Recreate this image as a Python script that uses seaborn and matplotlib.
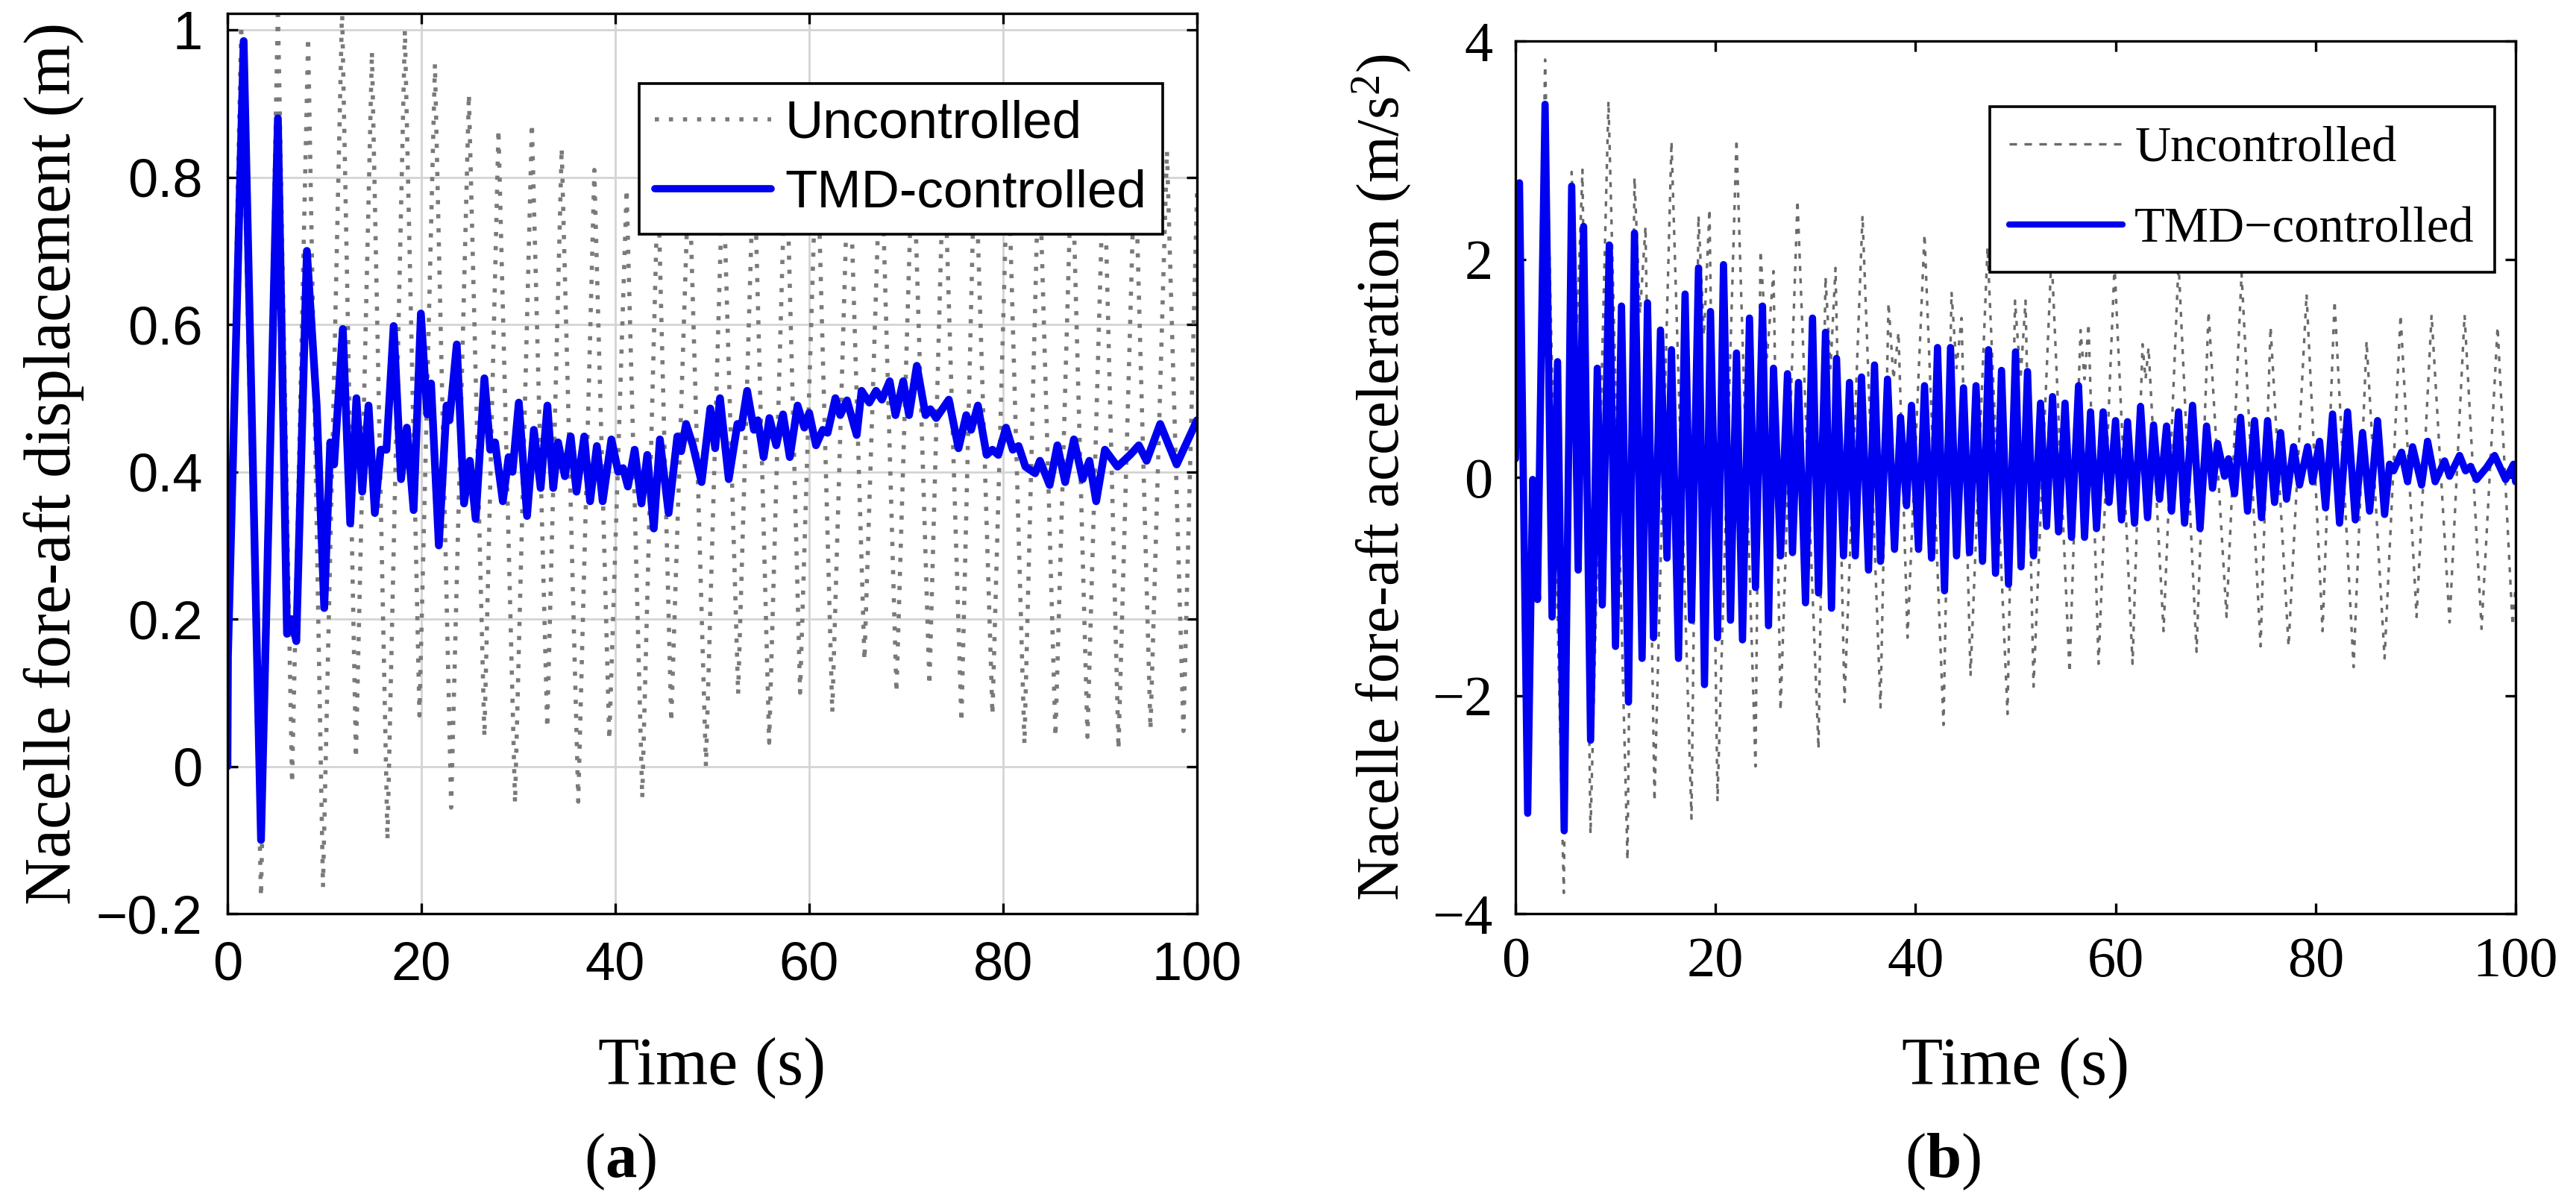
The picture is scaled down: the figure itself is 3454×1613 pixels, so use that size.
import numpy as np
import pandas as pd
import matplotlib
matplotlib.use("Agg")
import matplotlib.pyplot as plt
import seaborn as sns
from matplotlib.lines import Line2D

# ---------------- data ----------------
# (a) nacelle fore-aft displacement (m)
disp_unc_t = [0.0, 0.05, 1.42, 3.46, 5.2, 6.66, 8.32, 9.85, 11.82, 13.25, 14.9, 16.5, 18.3, 19.8,
              21.4, 23.07, 24.9, 26.5, 27.95, 29.66, 31.4, 32.98, 34.47, 36.18, 37.84, 39.38,
              41.17, 42.78, 44.4, 45.77, 47.6, 49.35, 51.1, 52.67, 54.3, 55.87, 57.6, 59.06,
              60.8, 62.38, 64.1, 65.7, 67.4, 69.0, 70.7, 72.4, 73.9, 75.7, 77.1, 78.9, 80.5,
              82.2, 83.7, 85.4, 87.1, 88.7, 90.4, 91.9, 93.6, 95.2, 96.9, 98.6, 100.0]
disp_unc_v = [0.0, 0.15, 1.007, -0.177, 1.03, -0.023, 0.99, -0.164, 1.03, 0.011, 0.971, -0.10, 1.0,
              0.069, 0.954, -0.056, 0.913, 0.04, 0.865, -0.05, 0.873, 0.052, 0.84, -0.048, 0.81,
              0.036, 0.784, -0.043, 0.80, 0.06, 0.82, 0.0, 0.82, 0.098, 0.84, 0.032, 0.86, 0.10,
              0.86, 0.073, 0.86, 0.144, 0.86, 0.10, 0.86, 0.11, 0.85, 0.06, 0.85, 0.07, 0.84,
              0.03, 0.84, 0.04, 0.84, 0.04, 0.84, 0.023, 0.84, 0.05, 0.836, 0.048, 0.78]

disp_tmd_t = [0.0, 0.05, 1.67, 3.46, 5.2, 6.14, 6.6, 7.1, 8.19, 9.2, 9.98, 10.6, 11.0, 11.9, 12.66,
              13.3, 13.9, 14.55, 15.2, 15.8, 16.4, 17.14, 17.9, 18.5, 19.2, 19.95, 20.6, 21.0,
              21.8, 22.6, 22.9, 23.65, 24.4, 25.0, 25.6, 26.5, 27.1, 27.6, 28.4, 29.0, 29.4,
              30.05, 30.9, 31.6, 32.3, 33.0, 33.6, 34.1, 34.8, 35.4, 36.0, 36.8, 37.4, 38.1,
              38.7, 39.6, 40.3, 40.8, 41.3, 42.0, 42.7, 43.3, 43.97, 44.6, 45.5, 46.4, 46.8,
              47.3, 48.0, 48.9, 49.8, 50.3, 50.8, 51.7, 52.6, 53.0, 53.6, 54.3, 54.7, 55.3,
              55.9, 56.6, 57.3, 58.0, 58.8, 59.5, 60.0, 60.7, 61.4, 61.9, 62.7, 63.2, 63.9,
              64.9, 65.4, 66.2, 66.9, 67.5, 68.3, 68.9, 69.7, 70.3, 71.1, 72.0, 72.5, 73.1,
              74.4, 75.4, 76.2, 76.7, 77.4, 78.3, 78.9, 79.5, 80.3, 81.0, 81.6, 82.3, 83.3,
              83.8, 84.8, 85.6, 86.4, 87.3, 88.2, 88.9, 89.6, 90.5, 91.8, 93.1, 94.0, 94.8,
              96.2, 97.9, 100.0]
disp_tmd_v = [0.0, 0.15, 0.985, -0.10, 0.88, 0.18, 0.20, 0.17, 0.70, 0.49, 0.215, 0.44, 0.41, 0.594,
              0.33, 0.50, 0.373, 0.49, 0.344, 0.43, 0.43, 0.598, 0.39, 0.46, 0.348, 0.615, 0.478,
              0.52, 0.30, 0.49, 0.47, 0.573, 0.357, 0.415, 0.336, 0.527, 0.43, 0.44, 0.36, 0.42,
              0.40, 0.494, 0.34, 0.457, 0.378, 0.49, 0.378, 0.44, 0.394, 0.448, 0.373, 0.448,
              0.36, 0.435, 0.36, 0.444, 0.40, 0.405, 0.38, 0.43, 0.357, 0.423, 0.323, 0.444,
              0.344, 0.448, 0.428, 0.465, 0.436, 0.386, 0.486, 0.432, 0.50, 0.39, 0.465, 0.46,
              0.51, 0.457, 0.47, 0.42, 0.473, 0.436, 0.478, 0.42, 0.49, 0.46, 0.48, 0.436,
              0.457, 0.453, 0.50, 0.477, 0.497, 0.45, 0.51, 0.494, 0.51, 0.498, 0.523, 0.477,
              0.523, 0.477, 0.544, 0.477, 0.485, 0.473, 0.498, 0.432, 0.477, 0.457, 0.49,
              0.423, 0.43, 0.423, 0.46, 0.43, 0.435, 0.407, 0.398, 0.415, 0.382, 0.436, 0.386,
              0.444, 0.39, 0.415, 0.36, 0.43, 0.407, 0.423, 0.436, 0.415, 0.465, 0.41, 0.47]

# (b) nacelle fore-aft acceleration (m/s^2)
acc_unc_t = [0.0, 0.4, 1.22, 1.72, 2.2, 2.96, 4.83, 5.62, 6.15, 6.7, 7.5, 9.3, 11.2, 11.9, 12.45,
             13.0, 13.9, 15.6, 17.6, 18.3, 18.85, 19.4, 20.2, 22.1, 24.0, 24.5, 25.15, 25.8,
             26.5, 28.2, 30.3, 31.0, 31.5, 32.0, 32.9, 34.7, 36.5, 37.3, 37.8, 38.3, 39.2,
             40.9, 42.8, 43.6, 44.1, 44.6, 45.5, 47.2, 49.2, 49.95, 50.5, 51.0, 51.8, 53.6,
             55.4, 56.5, 56.9, 57.3, 58.3, 59.9, 61.7, 62.7, 63.0, 63.3, 64.8, 66.3, 68.1,
             69.3, 71.1, 72.6, 74.5, 75.5, 77.3, 79.1, 80.7, 81.9, 83.8, 85.1, 86.9, 88.5,
             90.1, 91.6, 93.4, 94.9, 96.6, 98.2, 99.7, 100.0]
acc_unc_v = [0.1, 2.7, -3.05, 0.0, -1.0, 3.83, -3.81, 2.80, 1.4, 2.82, -3.27, 3.45, -3.51, 2.75,
             1.5, 2.30, -2.97, 3.08, -3.13, 2.40, 1.3, 2.46, -2.97, 3.10, -2.65, 2.08, 1.1, 1.89,
             -2.14, 2.54, -2.49, 1.84, 1.0, 1.92, -2.06, 2.40, -2.11, 1.60, 0.9, 1.33, -1.47,
             2.23, -2.27, 1.70, 1.0, 1.46, -1.82, 2.11, -2.17, 1.62, 0.9, 1.62, -1.92, 2.05,
             -1.79, 1.35, 0.9, 1.41, -1.71, 1.95, -1.71, 1.22, 0.9, 1.19, -1.41, 1.97, -1.60,
             1.52, -1.28, 1.87, -1.55, 1.38, -1.55, 1.68, -1.41, 1.62, -1.74, 1.25, -1.66, 1.49,
             -1.28, 1.49, -1.33, 1.49, -1.39, 1.38, -1.36, -1.0]

acc_tmd_t = [0.0, 0.4, 1.22, 1.72, 2.2, 2.96, 3.66, 4.21, 4.87, 5.62, 6.27, 6.81, 7.51, 8.18, 8.68,
             9.38, 10.0, 10.6, 11.3, 11.9, 12.66, 13.2, 13.8, 14.5, 15.15, 15.6, 16.3, 16.96,
             17.6, 18.3, 18.9, 19.5, 20.2, 20.8, 21.5, 22.1, 22.7, 23.4, 24.0, 24.7, 25.3, 25.8,
             26.5, 27.2, 27.7, 28.3, 29.0, 29.7, 30.3, 31.0, 31.6, 32.1, 32.8, 33.4, 33.98,
             34.6, 35.3, 35.9, 36.5, 37.2, 37.9, 38.5, 39.1, 39.6, 40.3, 40.9, 41.6, 42.2, 42.9,
             43.5, 44.1, 44.8, 45.4, 46.05, 46.7, 47.3, 48.0, 48.6, 49.3, 50.0, 50.55, 51.2,
             51.8, 52.5, 53.1, 53.7, 54.3, 54.95, 55.6, 56.3, 56.9, 57.5, 58.1, 58.76, 59.35,
             60.0, 60.6, 61.2, 61.9, 62.5, 63.2, 63.8, 64.4, 65.1, 65.6, 66.3, 66.9, 67.7,
             68.45, 69.1, 69.7, 70.2, 70.9, 71.3, 71.9, 72.5, 73.2, 73.9, 74.6, 75.2, 75.9,
             76.5, 77.1, 77.8, 78.4, 79.2, 79.7, 80.4, 81.0, 81.7, 82.4, 83.2, 83.97, 84.7,
             85.4, 86.2, 86.9, 87.4, 87.8, 88.6, 89.2, 89.7, 90.6, 91.2, 91.96, 92.9, 93.4,
             94.4, 95.0, 95.5, 96.1, 97.1, 97.9, 99.0, 99.8, 100.0]
acc_tmd_v = [0.17, 2.70, -3.08, -0.02, -1.12, 3.42, -1.28, 1.06, -3.24, 2.67, -0.85, 2.30, -2.41,
             1.0, -1.17, 2.13, -1.55, 1.57, -2.06, 2.24, -1.66, 1.60, -1.47, 1.35, -0.74, 1.17,
             -1.66, 1.68, -1.31, 1.92, -1.90, 1.52, -1.47, 1.95, -1.31, 1.14, -1.49, 1.46,
             -1.01, 1.57, -1.36, 1.0, -0.72, 0.95, -0.69, 0.87, -1.15, 1.46, -1.06, 1.33,
             -1.20, 1.09, -0.72, 0.87, -0.72, 0.92, -0.85, 1.03, -0.77, 0.90, -0.66, 0.55,
             -0.26, 0.66, -0.66, 0.84, -0.74, 1.19, -1.04, 1.19, -0.72, 0.82, -0.69, 0.84,
             -0.77, 1.17, -0.88, 0.98, -0.98, 1.15, -0.82, 0.97, -0.72, 0.68, -0.45, 0.74,
             -0.50, 0.68, -0.55, 0.84, -0.55, 0.60, -0.47, 0.60, -0.23, 0.52, -0.39, 0.51,
             -0.42, 0.65, -0.37, 0.48, -0.20, 0.47, -0.31, 0.60, -0.42, 0.66, -0.47, 0.47,
             -0.10, 0.31, 0.01, 0.17, -0.15, 0.55, -0.31, 0.52, -0.37, 0.52, -0.23, 0.41,
             -0.20, 0.28, -0.07, 0.28, -0.04, 0.33, -0.28, 0.58, -0.42, 0.60, -0.39, 0.41,
             -0.31, 0.52, -0.34, 0.12, 0.06, 0.23, -0.04, 0.28, -0.07, 0.33, -0.04, 0.15, 0.01,
             0.20, 0.06, 0.10, -0.02, 0.09, 0.20, -0.02, 0.12, -0.04]

series_names = ["Uncontrolled", "TMD-controlled"]
series_names_b = ["Uncontrolled", "TMD\u2212controlled"]
x_ticks = [0, 20, 40, 60, 80, 100]
disp_ticks = [-0.2, 0, 0.2, 0.4, 0.6, 0.8, 1.0]
disp_tick_labels = ["\u22120.2", "0", "0.2", "0.4", "0.6", "0.8", "1"]
acc_ticks = [-4, -2, 0, 2, 4]
acc_tick_labels = ["\u22124", "\u22122", "0", "2", "4"]
x_label = "Time (s)"
disp_label = "Nacelle fore-aft displacement (m)"
acc_label = "Nacelle fore-aft acceleration (m/s$^{2}$)"

# ---------------- style ----------------
sns.set_theme(style="ticks")
plt.rcParams.update({
    "font.family": ["Liberation Serif", "DejaVu Serif"],
    "mathtext.fontset": "custom",
    "mathtext.rm": "Liberation Serif",
    "mathtext.it": "Liberation Serif:italic",
    "mathtext.bf": "Liberation Serif:bold",
    "axes.edgecolor": "black",
    "axes.linewidth": 2.4,
    "xtick.color": "black",
    "ytick.color": "black",
    "text.color": "black",
    "axes.labelcolor": "black",
})

W, H = 3455, 1613
fig = plt.figure(figsize=(W / 100, H / 100), dpi=100)
fig.patch.set_facecolor("white")

axA = fig.add_axes([305 / W, (H - 1225) / H, 1300 / W, 1207 / H])
axB = fig.add_axes([2032 / W, (H - 1225) / H, 1341 / W, 1170 / H])

blue = "#0000F0"
gray_a = "#7a7a7a"
gray_b = "#6a6a6a"

dfA_unc = pd.DataFrame({"Time": disp_unc_t, "Value": disp_unc_v})
dfA_tmd = pd.DataFrame({"Time": disp_tmd_t, "Value": disp_tmd_v})
dfB_unc = pd.DataFrame({"Time": acc_unc_t, "Value": acc_unc_v})
dfB_tmd = pd.DataFrame({"Time": acc_tmd_t, "Value": acc_tmd_v})

# ---------------- panel (a) ----------------
sns.lineplot(data=dfA_unc, x="Time", y="Value", ax=axA, estimator=None, sort=False,
             color=gray_a, linewidth=4.0, linestyle=(0, (1.0, 2.4)), dash_capstyle="butt")
sns.lineplot(data=dfA_tmd, x="Time", y="Value", ax=axA, estimator=None, sort=False,
             color=blue, linewidth=7.5, solid_joinstyle="round", solid_capstyle="round")
axA.set_xlim(0, 100)
axA.set_ylim(-0.2, 1.0225)
axA.set_xticks(x_ticks)
axA.set_xticklabels([str(v) for v in x_ticks], family="Liberation Sans", fontsize=52)
axA.set_yticks(disp_ticks)
axA.set_yticklabels(disp_tick_labels, family="Liberation Sans", fontsize=52)
axA.grid(True, color="#d4d4d4", linewidth=2.0)
axA.set_axisbelow(True)
axA.tick_params(direction="in", length=10, width=2.4, top=True, right=True)
axA.tick_params(axis="x", pad=26)
axA.tick_params(axis="y", pad=24)
for s in axA.spines.values():
    s.set_visible(True)
    s.set_color("black")
    s.set_linewidth(2.4)
axA.set_xlabel(x_label, fontsize=65)
axA.xaxis.set_label_coords(0.5, -0.1715)
axA.xaxis.label.set_va("center")
axA.set_ylabel(disp_label, fontsize=63)
axA.yaxis.set_label_coords(-0.179, 0.5)
axA.yaxis.label.set_va("center")

hA = [Line2D([], [], color=gray_a, linewidth=4.0, linestyle=(0, (1.0, 2.4))),
      Line2D([], [], color=blue, linewidth=7.0)]
legA = axA.legend(hA, series_names, loc="upper left", bbox_to_anchor=(0.4246, 0.922),
                  borderaxespad=0, frameon=True, fancybox=False, edgecolor="black",
                  framealpha=1, prop={"family": "Liberation Sans", "size": 51},
                  handlelength=2.2, handletextpad=0.26, labelspacing=0.38, borderpad=0.3)
legA.get_frame().set_linewidth(2.6)

# ---------------- panel (b) ----------------
sns.lineplot(data=dfB_unc, x="Time", y="Value", ax=axB, estimator=None, sort=False,
             color=gray_b, linewidth=2.4, linestyle=(0, (2.0, 3.0)), dash_capstyle="butt")
sns.lineplot(data=dfB_tmd, x="Time", y="Value", ax=axB, estimator=None, sort=False,
             color=blue, linewidth=7.0, solid_joinstyle="round", solid_capstyle="round")
axB.set_xlim(0, 100)
axB.set_ylim(-4, 4)
axB.set_xticks(x_ticks)
axB.set_xticklabels([str(v) for v in x_ticks], family="Liberation Serif", fontsize=55)
axB.set_yticks(acc_ticks)
axB.set_yticklabels(acc_tick_labels, family="Liberation Serif", fontsize=55)
axB.grid(False)
axB.tick_params(direction="in", length=10, width=2.4, top=True, right=True)
axB.tick_params(axis="x", pad=22)
axB.tick_params(axis="y", pad=22)
for s in axB.spines.values():
    s.set_visible(True)
    s.set_color("black")
    s.set_linewidth(2.4)
axB.set_xlabel(x_label, fontsize=65)
axB.xaxis.set_label_coords(0.5, -0.177)
axB.xaxis.label.set_va("center")
axB.set_ylabel(acc_label, fontsize=58)
axB.yaxis.set_label_coords(-0.134, 0.5)
axB.yaxis.label.set_va("center")

hB = [Line2D([], [], color=gray_b, linewidth=2.4, linestyle=(0, (3.0, 3.0))),
      Line2D([], [], color=blue, linewidth=6.0)]
legB = axB.legend(hB, series_names_b, loc="upper left", bbox_to_anchor=(0.474, 0.925),
                  borderaxespad=0, frameon=True, fancybox=False, edgecolor="black",
                  framealpha=1, prop={"family": "Liberation Serif", "size": 48},
                  handlelength=2.27, handletextpad=0.25, labelspacing=0.7, borderpad=0.4)
legB.get_frame().set_linewidth(2.6)

# ---------------- captions ----------------
fig.text(832 / W, 1 - 1558 / H, "($\\mathbf{a}$)", ha="center", va="center", fontsize=61)
fig.text(2605 / W, 1 - 1558 / H, "($\\mathbf{b}$)", ha="center", va="center", fontsize=61)

fig.savefig("out.png", dpi=100, facecolor="white")
